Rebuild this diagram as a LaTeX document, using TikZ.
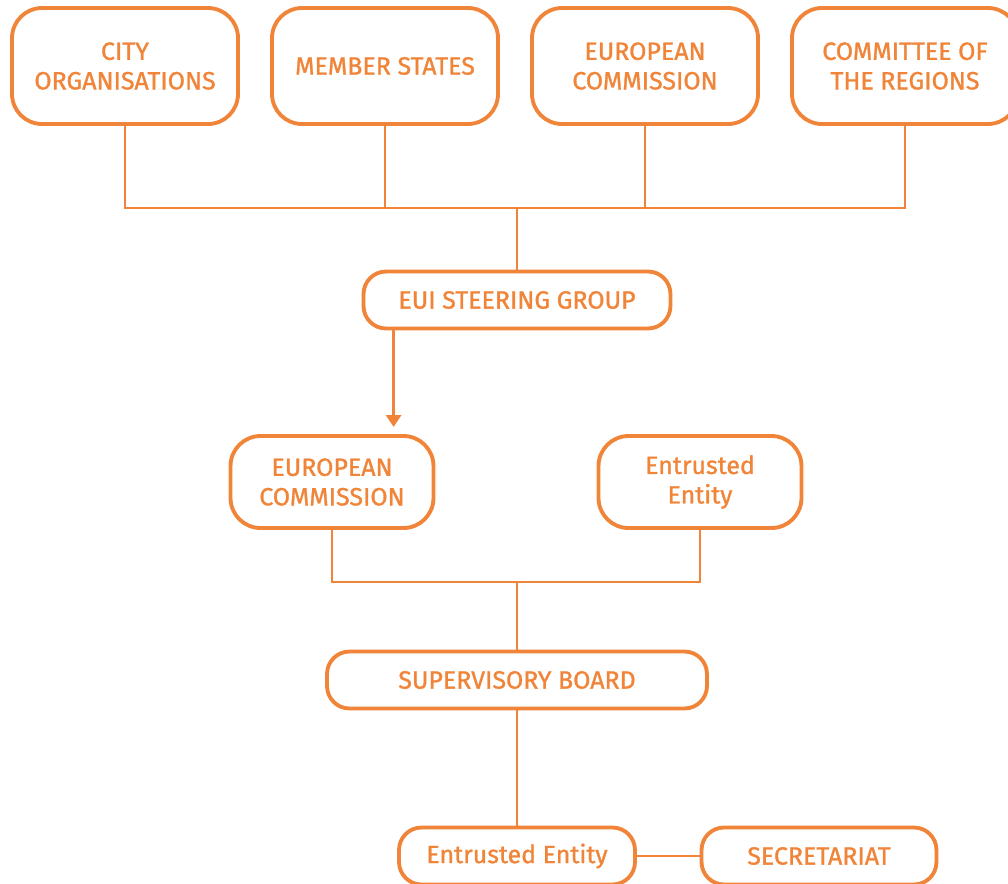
\documentclass[tikz,border=0pt]{standalone}
\usepackage{fontspec}
\newfontfamily\boxfont{Fira Sans}[FakeBold=1.2]
\usetikzlibrary{arrows.meta}
\definecolor{euiorange}{HTML}{F0853A}
\begin{document}
\begin{tikzpicture}[x=0.02cm, y=-0.02cm,
  box/.style={draw=euiorange, line width=2.2pt, rounded corners=0.6cm, text=euiorange,
    align=center, minimum width=4.52cm, minimum height=2.32cm,
    font=\boxfont\fontsize{14.2}{16.8}\selectfont},
  flat/.style={box, rounded corners=0.45cm, minimum height=1.14cm},
  mid/.style={box, minimum width=4.06cm, minimum height=1.84cm},
  link/.style={draw=euiorange, line width=1.1pt},
  arrow/.style={draw=euiorange, line width=1.7pt, -{Triangle[width=0.3cm,length=0.24cm]}}]
\useasboundingbox (0,0) rectangle (1008,883);
% top row
\node[box] (city) at (125,66) {CITY\\ORGANISATIONS};
\node[box] (member) at (385,66) {MEMBER STATES};
\node[box] (ectop) at (645,66) {EUROPEAN\\COMMISSION};
\node[box] (regions) at (905,66) {COMMITTEE OF\\THE REGIONS};
\coordinate (topjoin) at (517,208);
\draw[link] (city.south) |- (topjoin) -| (regions.south);
\draw[link] (member.south) -- (member.south |- topjoin);
\draw[link] (ectop.south) -- (ectop.south |- topjoin);
% steering group
\node[flat, minimum width=6.14cm] (steer) at (517,300) {EUI STEERING GROUP};
\draw[link] (topjoin) -- (steer.north);
% second row
\node[mid] (ecmid) at (332,482) {EUROPEAN\\COMMISSION};
\node[mid] (entrusted) at (700,482) {Entrusted\\Entity};
\draw[arrow] ([xshift=0.64cm]steer.south west) -- ([xshift=0.64cm]steer.south west |- 0,427);
\coordinate (midjoin) at (517,582);
\draw[link] (ecmid.south) |- (midjoin) -| (entrusted.south);
% supervisory board
\node[flat, minimum width=7.6cm] (board) at (517,680) {SUPERVISORY BOARD};
\draw[link] (midjoin) -- (board.north);
% bottom row
\node[flat, minimum width=4.72cm] (entbottom) at (517,856) {Entrusted Entity};
\node[flat, minimum width=4.7cm] (secretariat) at (819,856) {SECRETARIAT};
\draw[link] (board.south) -- (entbottom.north);
\draw[link] (entbottom.east) -- (secretariat.west);
\end{tikzpicture}
\end{document}
